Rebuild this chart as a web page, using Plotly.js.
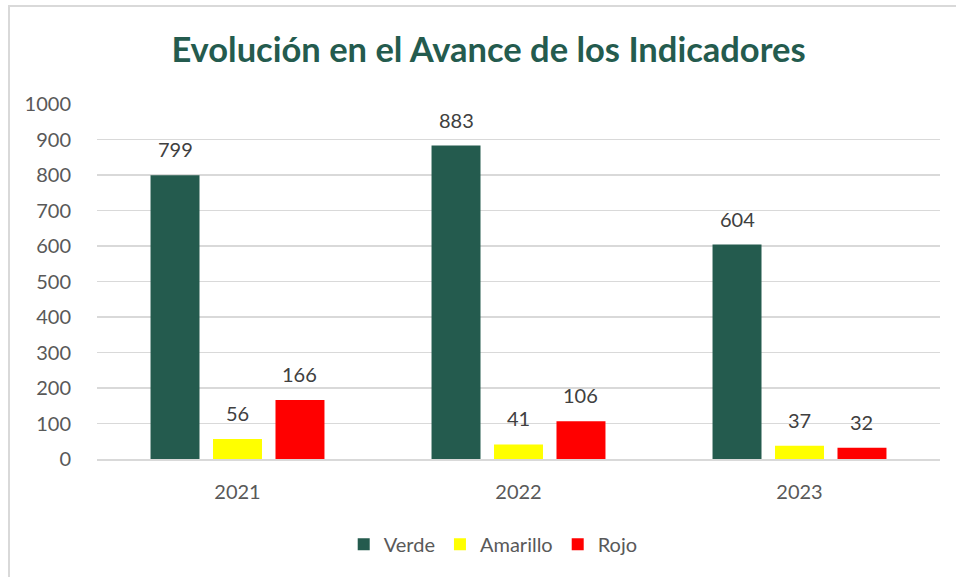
<!DOCTYPE html>
<html><head><meta charset="utf-8">
<script src="https://cdn.plot.ly/plotly-3.0.1.min.js"></script>
<style>
html,body{margin:0;padding:0;background:#fff;}
#wrap{position:relative;width:956px;height:577px;overflow:hidden;}
#chart{width:956px;height:577px;}
#frame{position:absolute;left:8px;top:5px;width:1000px;height:700px;border:2px solid #d9d9d9;box-sizing:border-box;pointer-events:none;}
</style></head>
<body>
<div id="wrap"><div id="chart"></div><div id="frame"></div></div>
<script>
const years = ['2021', '2022', '2023'];
const seriesNames = ['Verde', 'Amarillo', 'Rojo'];
const verde = [799, 883, 604];
const amarillo = [56, 41, 37];
const rojo = [166, 106, 32];
const colors = ['#245B4E', '#FFFF00', '#FF0000'];
const values = [verde, amarillo, rojo];

const traces = values.map((v, i) => ({
  type: 'bar', name: seriesNames[i], x: years, y: v,
  marker: {color: colors[i]}
}));

const bargap = 0.333, plotW = 843;
const slot = plotW / years.length * (1 - bargap) / 3;
const annotations = [];
values.forEach((v, i) => {
  v.forEach((val, j) => {
    annotations.push({
      x: j, y: val, xref: 'x', yref: 'y', text: String(val),
      showarrow: false, yanchor: 'bottom', yshift: 12, xshift: (i - 1) * slot,
      font: {family: 'Lato, "Open Sans", sans-serif', size: 20, color: '#404040'}
    });
  });
});

const layout = {
  width: 956, height: 577,
  margin: {l: 97, r: 16, t: 104, b: 118},
  paper_bgcolor: '#fff', plot_bgcolor: '#fff',
  title: {text: '<b>Evolución en el Avance de los Indicadores</b>', x: 0.511, xanchor: 'center', y: 0.913, yanchor: 'middle',
    font: {family: 'Lato, "Open Sans", sans-serif', size: 34.5, color: '#245B4E'}},
  barmode: 'group', bargap: bargap, bargroupgap: 0.216,
  xaxis: {type: 'category', showgrid: false, showline: true, linecolor: '#d9d9d9', linewidth: 2,
    ticks: 'outside', ticklen: 14, tickcolor: 'rgba(0,0,0,0)',
    tickfont: {family: 'Lato, "Open Sans", sans-serif', size: 20, color: '#595959'}},
  yaxis: {range: [0, 1000], dtick: 100, showgrid: true, gridcolor: '#d9d9d9', gridwidth: 1.5,
    zeroline: false, showline: false, ticks: 'outside', ticklen: 21, tickcolor: 'rgba(0,0,0,0)',
    tickfont: {family: 'Lato, "Open Sans", sans-serif', size: 20, color: '#595959'}},
  legend: {orientation: 'h', x: 0.47, xanchor: 'center', y: -0.185, yanchor: 'top',
    font: {family: 'Lato, "Open Sans", sans-serif', size: 20, color: '#595959'}},
  annotations: annotations,
  showlegend: true
};
Plotly.newPlot('chart', traces, layout, {displayModeBar: false, staticPlot: true});
</script>
</body></html>
